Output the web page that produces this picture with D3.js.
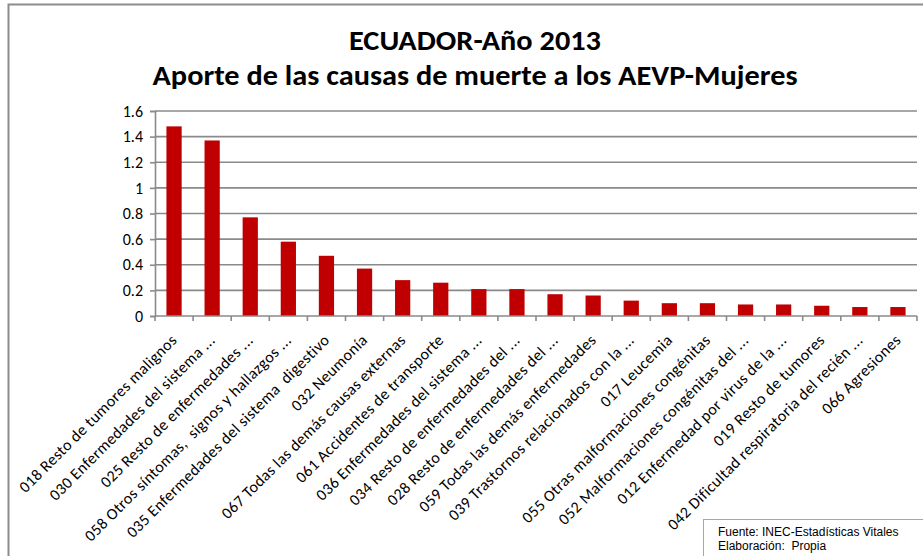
<html>
  <head>
    <script src="https://d3js.org/d3.v7.min.js"></script>
    <style>
      body { margin: 0; background: #fff; }
      text { font-family: Carlito, Calibri, Lato, sans-serif; }
    </style>
  </head>
  <body>
<div id="my_dataviz"></div>
<script>
// data
var causes = [
  "018 Resto de tumores malignos",
  "030 Enfermedades del sistema ...",
  "025 Resto de enfermedades ...",
  "058 Otros síntomas,  signos y hallazgos ...",
  "035 Enfermedades del sistema  digestivo",
  "032 Neumonía",
  "067 Todas las demás causas externas",
  "061 Accidentes de transporte",
  "036 Enfermedades del sistema ...",
  "034 Resto de enfermedades del ...",
  "028 Resto de enfermedades del ...",
  "059 Todas las demás enfermedades",
  "039 Trastornos relacionados con la ...",
  "017 Leucemia",
  "055 Otras malformaciones congénitas",
  "052 Malformaciones congénitas del ...",
  "012 Enfermedad por virus de la ...",
  "019 Resto de tumores",
  "042 Dificultad respiratoria del recién ...",
  "066 Agresiones"
];
var aevp = [1.48, 1.37, 0.77, 0.58, 0.47, 0.37, 0.28, 0.26, 0.21, 0.21,
            0.17, 0.16, 0.12, 0.10, 0.10, 0.09, 0.09, 0.08, 0.07, 0.07];
var yTicks = [0, 0.2, 0.4, 0.6, 0.8, 1, 1.2, 1.4, 1.6];
var titleLines = ["ECUADOR-Año 2013", "Aporte de las causas de muerte a los AEVP-Mujeres"];
var titleWidths = [252, 645];
var sourceLines = ["Fuente: INEC-Estadísticas Vitales", "Elaboración:  Propia"];

var W = 923, H = 556;
var svg = d3.select("#my_dataviz").append("svg")
  .attr("width", W).attr("height", H);

// outer chart frame (runs off the right and bottom)
svg.append("rect")
  .attr("x", 8.5).attr("y", 4.5).attr("width", 930).attr("height", 600)
  .attr("fill", "none").attr("stroke", "#8c8c8c").attr("stroke-width", 2);

var x = d3.scaleBand().domain(causes).range([155, 917]).padding(0);
var y = d3.scaleLinear().domain([0, 1.6]).range([316, 111]);

// gridlines
svg.append("g").selectAll("line").data(yTicks.slice(1)).enter().append("line")
  .attr("x1", 155).attr("x2", 917)
  .attr("y1", function(d) { return y(d); }).attr("y2", function(d) { return y(d); })
  .attr("stroke", "#8a8a8a").attr("stroke-width", 1.6);

// y axis
var yAxis = svg.append("g")
  .attr("transform", "translate(155,0)")
  .call(d3.axisLeft(y).tickValues(yTicks).tickSize(5).tickPadding(7)
    .tickFormat(function(d) { return String(d); }));
yAxis.select(".domain").attr("stroke", "#8a8a8a").attr("stroke-width", 1.6);
yAxis.selectAll(".tick line").attr("stroke", "#8a8a8a").attr("stroke-width", 1.6);
yAxis.selectAll("text").style("font-size", "16px").attr("fill", "#000");

// bars
var bw = x.bandwidth() / 2.5;
svg.append("g").selectAll("rect").data(aevp).enter().append("rect")
  .attr("x", function(d, i) { return x(causes[i]) + (x.bandwidth() - bw) / 2; })
  .attr("y", function(d) { return y(d); })
  .attr("width", bw)
  .attr("height", function(d) { return y(0) - y(d); })
  .attr("fill", "#c00000");

// x axis with ticks at band edges
svg.append("line").attr("x1", 155).attr("x2", 917).attr("y1", y(0)).attr("y2", y(0))
  .attr("stroke", "#8a8a8a").attr("stroke-width", 1.6);
svg.append("g").selectAll("line").data(d3.range(causes.length + 1)).enter().append("line")
  .attr("x1", function(i) { return 155 + i * x.step(); })
  .attr("x2", function(i) { return 155 + i * x.step(); })
  .attr("y1", y(0)).attr("y2", y(0) + 5)
  .attr("stroke", "#8a8a8a").attr("stroke-width", 1.6);

// category labels, rotated
svg.append("g").selectAll("text").data(causes).enter().append("text")
  .attr("transform", function(d) {
    return "translate(" + (x(d) + x.bandwidth() / 2 + 4) + "," + (y(0) + 25) + ") rotate(-45)";
  })
  .attr("text-anchor", "end")
  .style("font-size", "16px")
  .style("letter-spacing", "0.4px")
  .style("white-space", "pre")
  .text(function(d) { return d; });

// title
svg.append("g").selectAll("text").data(titleLines).enter().append("text")
  .attr("x", 475).attr("y", function(d, i) { return 50 + i * 35; })
  .attr("text-anchor", "middle")
  .attr("textLength", function(d, i) { return titleWidths[i]; })
  .attr("lengthAdjust", "spacingAndGlyphs")
  .style("font-size", "29px").style("font-weight", "bold")
  .text(function(d) { return d; });

// source box
svg.append("rect").attr("x", 703.5).attr("y", 519.5).attr("width", 230).attr("height", 60)
  .attr("fill", "#fff").attr("stroke", "#a6a6a6").attr("stroke-width", 1);
svg.append("g").selectAll("text").data(sourceLines).enter().append("text")
  .attr("x", 718).attr("y", function(d, i) { return 536 + i * 14; })
  .style("font-family", "'Liberation Sans', Arial, sans-serif")
  .style("font-size", "12px").style("white-space", "pre")
  .text(function(d) { return d; });
</script>
  </body>
</html>
